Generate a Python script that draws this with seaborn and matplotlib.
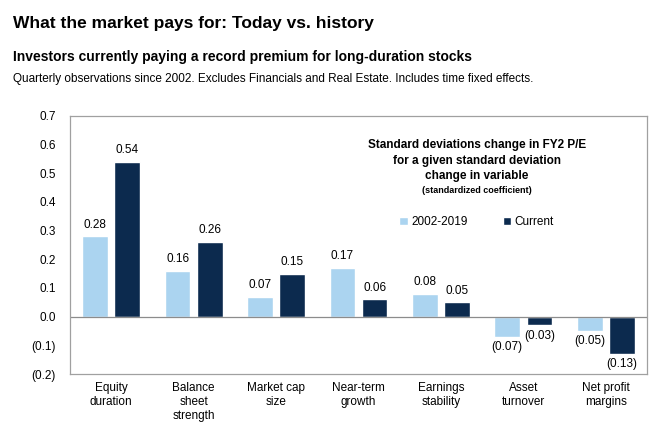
import matplotlib
matplotlib.use("Agg")
import matplotlib.pyplot as plt
import seaborn as sns
import pandas as pd
from matplotlib.ticker import FuncFormatter

categories = ["Equity\nduration", "Balance\nsheet\nstrength", "Market cap\nsize",
              "Near-term\ngrowth", "Earnings\nstability", "Asset\nturnover",
              "Net profit\nmargins"]
hist_vals = [0.28, 0.16, 0.07, 0.17, 0.08, -0.07, -0.05]
curr_vals = [0.54, 0.26, 0.15, 0.06, 0.05, -0.03, -0.13]
series = ["2002-2019", "Current"]
colors = ["#abd4f0", "#0c2a4e"]

df = pd.DataFrame({
    "cat": categories * 2,
    "val": hist_vals + curr_vals,
    "series": [series[0]] * len(categories) + [series[1]] * len(categories),
})

sns.set_style("white")
plt.rcParams["font.family"] = ["Liberation Sans", "DejaVu Sans"]
plt.rcParams["text.color"] = "black"
plt.rcParams["xtick.color"] = "black"
plt.rcParams["ytick.color"] = "black"

fig = plt.figure(figsize=(6.59, 4.28), dpi=100)
ax = fig.add_axes([70 / 659, 1 - 374 / 428, 577 / 659, 258 / 428])

sns.barplot(data=df, x="cat", y="val", hue="series", palette=colors,
            width=0.78, gap=0.2, ax=ax, saturation=1)


def fmt(v, dec):
    s = f"{abs(v):.{dec}f}"
    return f"({s})" if v < 0 else s


fs = 8.5
for cont in ax.containers:
    for bar in cont:
        h = bar.get_height()
        x = bar.get_x() + bar.get_width() / 2
        if h >= 0:
            ax.text(x, h + 0.02, fmt(h, 2), ha="center", va="bottom", fontsize=fs)
        else:
            ax.text(x, h - 0.015, fmt(h, 2), ha="center", va="top", fontsize=fs)

ax.set_ylim(-0.2, 0.7)
ax.set_yticks([-0.2, -0.1, 0, 0.1, 0.2, 0.3, 0.4, 0.5, 0.6, 0.7])
ax.yaxis.set_major_formatter(FuncFormatter(lambda v, p: fmt(round(v, 2), 1)))
ax.axhline(0, color="#8c8c8c", lw=0.9)
ax.set_xlabel("")
ax.set_ylabel("")
ax.tick_params(axis="x", length=0, labelsize=fs, pad=6)
ax.tick_params(axis="y", length=0, labelsize=fs, pad=10)
for s in ax.spines.values():
    s.set_color("#a0a0a0")
    s.set_linewidth(0.9)

ax.legend(loc="center", bbox_to_anchor=(0.705, 0.589), ncol=2, frameon=False,
          fontsize=fs, handlelength=0.7, handleheight=0.7, handletextpad=0.3,
          columnspacing=3.0)

note_lines = ["Standard deviations change in FY2 P/E",
              "for a given standard deviation",
              "change in variable"]
for yy, line in zip([0.888, 0.826, 0.767], note_lines):
    ax.text(0.705, yy, line, transform=ax.transAxes, ha="center", va="center",
            fontsize=fs, fontweight="bold")
ax.text(0.705, 0.713, "(standardized coefficient)", transform=ax.transAxes,
        ha="center", va="center", fontsize=6.5, fontweight="bold")

fig.text(13 / 659, 1 - 28 / 428, "What the market pays for: Today vs. history",
         fontsize=12.5, fontweight="bold", va="baseline")
fig.text(13 / 659, 1 - 61 / 428, "Investors currently paying a record premium for long-duration stocks",
         fontsize=10, fontweight="bold", va="baseline")
fig.text(13 / 659, 1 - 82 / 428,
         "Quarterly observations since 2002. Excludes Financials and Real Estate. Includes time fixed effects.",
         fontsize=8.5, va="baseline")

fig.savefig("out.png", dpi=100)
